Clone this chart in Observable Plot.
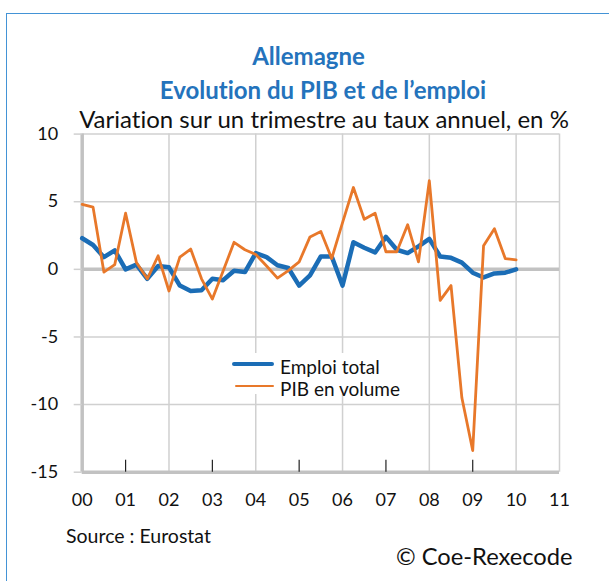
<!DOCTYPE html>
<html>
<head>
<meta charset="utf-8">
<script src="https://cdn.jsdelivr.net/npm/d3@7"></script>
<script src="https://cdn.jsdelivr.net/npm/@observablehq/plot@0.6"></script>
<style>
  html, body { margin: 0; padding: 0; background: #fff; }
  #wrap { position: relative; width: 609px; height: 581px; overflow: hidden; background: #fff; font-family: Lato, sans-serif; font-variant-ligatures: none; }
  #chart { position: absolute; left: 0; top: 0; }
  .t { position: absolute; white-space: nowrap; line-height: 1; font-variant-ligatures: none; }
  #border { position: absolute; left: 6px; top: 13px; width: 640px; height: 620px; border: 1.5px solid #4393d6; box-sizing: border-box; pointer-events: none; z-index: 5; }
  #legendBox { position: absolute; left: 226px; top: 353px; width: 186px; height: 41px; background: #fff; z-index: 4; }
  .lg { position: absolute; font-size: 19px; color: #111; line-height: 1; white-space: nowrap; }
  .sw { position: absolute; height: 0; border-radius: 3px; }
</style>
</head>
<body>
<div id="wrap">
  <div id="chart"></div>
  <div class="t" style="left:0;width:617px;text-align:center;top:44.4px;font-size:24px;font-weight:700;color:#2473bc;">Allemagne</div>
  <div class="t" style="left:0;width:646px;text-align:center;top:77.7px;font-size:24px;font-weight:700;color:#2473bc;">Evolution du PIB et de l’emploi</div>
  <div class="t" style="left:0;width:648px;text-align:center;top:107px;font-size:24px;color:#111;">Variation sur un trimestre au taux annuel, en %</div>
  <div class="t" style="left:66px;top:526px;font-size:19.5px;color:#111;">Source : Eurostat</div>
  <div class="t" style="left:396px;top:545px;font-size:23.7px;color:#111;">© Coe-Rexecode</div>
  <div id="legendBox"></div>
  <div id="border"></div>
</div>
<script>
// ---- Data (quarterly, 2000Q1 .. 2010Q1) ----
const startYear = 2000;
const seriesNames = ["Emploi total", "PIB en volume"];
const emploiTotal = [2.3, 1.8, 0.9, 1.4, 0.0, 0.35, -0.7, 0.25, 0.15, -1.2, -1.6, -1.55, -0.7, -0.8, -0.1, -0.2,
  1.2, 0.9, 0.3, 0.1, -1.2, -0.45, 0.95, 0.95, -1.2, 2.0, 1.6, 1.25, 2.4, 1.45, 1.2, 1.7, 2.25, 0.95, 0.85, 0.5,
  -0.25, -0.6, -0.3, -0.25, 0.0];
const pibVolume = [4.8, 4.6, -0.2, 0.35, 4.15, 0.5, -0.7, 1.0, -1.6, 0.9, 1.5, -0.7, -2.2, -0.1, 2.0, 1.45,
  1.1, 0.25, -0.65, -0.1, 0.55, 2.4, 2.8, 0.8, 3.45, 6.05, 3.7, 4.15, 1.3, 1.3, 3.3, 0.55, 6.55, -2.3, -1.2, -9.5,
  -13.4, 1.75, 3.0, 0.8, 0.7];
const yTicks = [-15, -10, -5, 0, 5, 10];
const xYears = [2000, 2001, 2002, 2003, 2004, 2005, 2006, 2007, 2008, 2009, 2010, 2011];
const xGridYears = [2002, 2004, 2006, 2008, 2010, 2011];
const xTickYears = [2001, 2003, 2005, 2007, 2009];

// ---- Styles ----
const blue = "#1b6db6", orange = "#e8782a";
const gridColor = "#d0d0d0", axisColor = "#c2c2c2";

const toRows = (arr) => arr.map((v, i) => ({ t: startYear + i / 4, v }));
const emploiRows = toRows(emploiTotal);
const pibRows = toRows(pibVolume);

const W = 609, H = 581;
const pL = 81.7, pR = 559, pT = 133.6, pB = 471.7;

const chart = Plot.plot({
  width: W, height: H,
  marginLeft: pL, marginRight: W - pR, marginTop: pT, marginBottom: H - pB,
  x: { domain: [2000, 2011] },
  y: { domain: [-15, 10] },
  style: { fontFamily: "Lato, sans-serif", fontSize: "18px", background: "transparent", color: "#111", overflow: "visible" },
  marks: [
    Plot.ruleY(yTicks, { stroke: gridColor, strokeWidth: 1.5 }),
    Plot.ruleX(xGridYears, { stroke: gridColor, strokeWidth: 1.5 }),
    Plot.ruleY([0], { stroke: axisColor, strokeWidth: 3.5 }),
    Plot.ruleX([2000], { stroke: axisColor, strokeWidth: 3.5 }),
    Plot.ruleY([-15], { stroke: axisColor, strokeWidth: 3.5 }),
    Plot.tickX(xTickYears, { stroke: "#222", strokeWidth: 1.2, insetTop: (pB - pT) - 12 }),
    Plot.axisY({ ticks: yTicks, tickSize: 8, tickPadding: 16, stroke: gridColor, strokeWidth: 1.5, fill: "#111", label: null, tickFormat: d => String(d) }),
    Plot.axisX({ ticks: xYears, tickSize: 0, tickPadding: 21, fill: "#111", label: null, tickFormat: d => String(d % 100).padStart(2, "0") }),
    Plot.line(emploiRows, { x: "t", y: "v", stroke: blue, strokeWidth: 4.5 }),
    Plot.line(pibRows, { x: "t", y: "v", stroke: orange, strokeWidth: 2.8 })
  ]
});
document.getElementById("chart").appendChild(chart);

// ---- Legend ----
const legendBox = document.getElementById("legendBox");
const legendItems = [
  { name: seriesNames[0], color: blue, w: 4.5, sx: 6, sw: 42, ty: 3.5, ly: 11 },
  { name: seriesNames[1], color: orange, w: 2.8, sx: 9, sw: 39, ty: 26, ly: 33.7 }
];
legendItems.forEach(it => {
  const s = document.createElement("div");
  s.className = "sw";
  s.style.left = it.sx + "px";
  s.style.width = it.sw + "px";
  s.style.top = (it.ly - it.w / 2) + "px";
  s.style.borderTop = it.w + "px solid " + it.color;
  legendBox.appendChild(s);
  const t = document.createElement("div");
  t.className = "lg";
  t.style.left = "54px";
  t.style.top = it.ty + "px";
  t.textContent = it.name;
  legendBox.appendChild(t);
});
</script>
</body>
</html>
